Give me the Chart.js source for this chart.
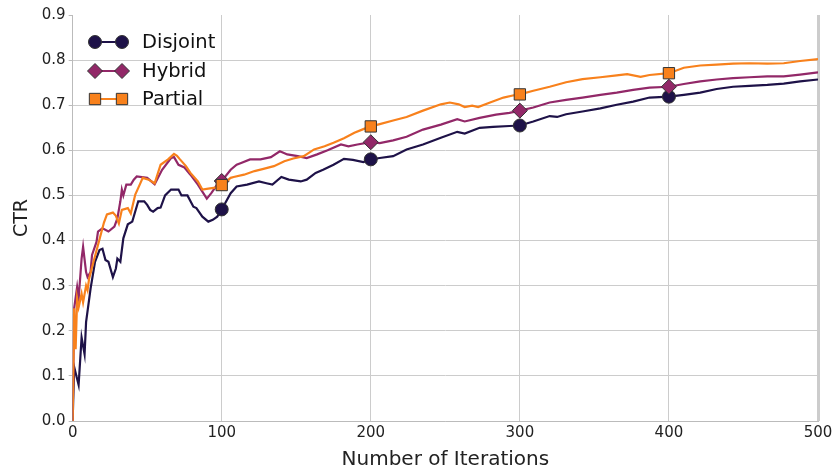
<!DOCTYPE html>
<html>
<head>
<meta charset="utf-8">
<script src="https://cdn.jsdelivr.net/npm/chart.js@4.4.1/dist/chart.umd.min.js"></script>
<style>
  html, body { margin: 0; padding: 0; background: #fff; }
  #wrap { width: 835px; height: 472px; position: relative; }
</style>
</head>
<body>
<div id="wrap"><canvas id="ctrChart"></canvas></div>
<script>
// values
const disjointIter = [0, 1, 4, 6, 8, 9, 12, 15, 18, 20, 22, 24, 27, 29, 30, 32, 34, 37, 40, 44, 48, 50, 52, 54, 57, 59, 62, 66, 71, 73, 77, 81, 83, 87, 91, 94, 97, 100, 106, 110, 117, 125, 130, 134, 140, 145, 153, 157, 163, 168, 175, 182, 188, 195, 200, 206, 215, 224, 235, 247, 258, 263, 273, 282, 293, 300, 309, 320, 325, 331, 342, 354, 365, 376, 387, 400, 410, 421, 432, 443, 454, 466, 477, 488, 500];
const disjointCTR = [0, 0.12, 0.08, 0.185, 0.148, 0.219, 0.293, 0.353, 0.379, 0.382, 0.357, 0.353, 0.319, 0.338, 0.36, 0.353, 0.405, 0.436, 0.442, 0.487, 0.487, 0.479, 0.468, 0.464, 0.472, 0.473, 0.5, 0.513, 0.513, 0.5, 0.5, 0.475, 0.472, 0.453, 0.442, 0.446, 0.453, 0.469, 0.505, 0.52, 0.524, 0.531, 0.527, 0.524, 0.541, 0.535, 0.531, 0.535, 0.55, 0.557, 0.568, 0.581, 0.579, 0.574, 0.58, 0.583, 0.587, 0.602, 0.613, 0.628, 0.641, 0.637, 0.65, 0.652, 0.654, 0.655, 0.664, 0.676, 0.674, 0.68, 0.686, 0.693, 0.701, 0.708, 0.717, 0.719, 0.723, 0.728, 0.736, 0.741, 0.743, 0.745, 0.748, 0.753, 0.757];

const hybridIter = [0, 1, 3, 4, 6, 7, 9, 10, 12, 13, 16, 17, 20, 24, 28, 30, 32, 33, 34, 36, 39, 41, 43, 50, 55, 60, 66, 68, 71, 75, 79, 84, 90, 93, 97, 100, 106, 110, 113, 119, 126, 133, 139, 144, 151, 157, 164, 171, 180, 185, 191, 200, 206, 215, 224, 235, 247, 258, 263, 273, 284, 293, 300, 309, 320, 331, 342, 354, 365, 376, 387, 400, 410, 421, 432, 443, 454, 466, 477, 488, 500];
const hybridCTR = [0, 0.25, 0.297, 0.271, 0.36, 0.386, 0.33, 0.319, 0.33, 0.368, 0.397, 0.42, 0.427, 0.42, 0.431, 0.449, 0.487, 0.513, 0.5, 0.524, 0.524, 0.535, 0.542, 0.539, 0.525, 0.557, 0.583, 0.585, 0.568, 0.562, 0.546, 0.524, 0.493, 0.505, 0.524, 0.532, 0.557, 0.568, 0.572, 0.58, 0.58, 0.585, 0.598, 0.591, 0.587, 0.583, 0.591, 0.6, 0.613, 0.609, 0.613, 0.618, 0.616, 0.622, 0.63, 0.646, 0.657, 0.669, 0.664, 0.672, 0.679, 0.683, 0.688, 0.695, 0.706, 0.712, 0.717, 0.723, 0.728, 0.734, 0.739, 0.741, 0.747, 0.753, 0.757, 0.76, 0.762, 0.764, 0.764, 0.768, 0.773];

const partialIter = [0, 1, 2, 3, 4, 6, 7, 9, 10, 11, 14, 17, 19, 21, 23, 27, 29, 31, 33, 37, 39, 42, 45, 47, 51, 55, 59, 64, 68, 70, 72, 76, 79, 84, 87, 91, 97, 100, 106, 108, 115, 122, 128, 135, 142, 148, 155, 162, 169, 175, 182, 189, 195, 200, 206, 215, 224, 235, 247, 253, 259, 263, 268, 272, 280, 289, 296, 300, 309, 320, 331, 342, 354, 365, 372, 381, 387, 400, 410, 421, 432, 443, 454, 466, 477, 488, 500];
const partialCTR = [0, 0.25, 0.159, 0.271, 0.252, 0.282, 0.263, 0.3, 0.29, 0.315, 0.353, 0.39, 0.415, 0.44, 0.458, 0.462, 0.455, 0.438, 0.468, 0.472, 0.46, 0.502, 0.524, 0.539, 0.535, 0.527, 0.568, 0.58, 0.592, 0.588, 0.58, 0.565, 0.55, 0.531, 0.513, 0.515, 0.518, 0.523, 0.539, 0.541, 0.546, 0.554, 0.559, 0.565, 0.576, 0.582, 0.587, 0.602, 0.609, 0.617, 0.627, 0.639, 0.647, 0.653, 0.658, 0.666, 0.674, 0.688, 0.702, 0.706, 0.702, 0.696, 0.699, 0.696, 0.706, 0.717, 0.722, 0.724, 0.732, 0.741, 0.751, 0.758, 0.762, 0.766, 0.769, 0.763, 0.767, 0.771, 0.783, 0.788, 0.79, 0.792, 0.793, 0.792, 0.793, 0.798, 0.802];

const markerIters = [100, 200, 300, 400];
const xTicks = [0, 100, 200, 300, 400, 500];
const yTicks = [0, 0.1, 0.2, 0.3, 0.4, 0.5, 0.6, 0.7, 0.8, 0.9];

const FONT = 'DejaVu Sans';
const series = [
    { label: 'Disjoint', iter: disjointIter, ctr: disjointCTR, color: '#1e1248', style: 'circle', radius: 6.5, order: 2 },
    { label: 'Hybrid', iter: hybridIter, ctr: hybridCTR, color: '#922868', style: 'rectRot', radius: 7.5, order: 1 },
    { label: 'Partial', iter: partialIter, ctr: partialCTR, color: '#f8811c', style: 'rect', radius: 8, order: 0 }
];

const pts = (xs, ys) => xs.map((x, i) => ({ x: x, y: ys[i] }));

// legend drawn by hand: marker - line - marker, then the label
const legendPlugin = {
    id: 'pairLegend',
    afterDraw(chart) {
        const ctx = chart.ctx;
        const x1 = 95, x2 = 122, tx = 142;
        const rows = [42, 71, 99];
        series.forEach((s, i) => {
            const y = rows[i];
            ctx.save();
            ctx.strokeStyle = s.color;
            ctx.lineWidth = 2;
            ctx.beginPath();
            ctx.moveTo(x1, y);
            ctx.lineTo(x2, y);
            ctx.stroke();
            const opts = { pointStyle: s.style, radius: s.radius, borderWidth: 1 };
            ctx.fillStyle = s.color;
            ctx.strokeStyle = '#333';
            ctx.lineWidth = 1;
            Chart.helpers.drawPoint(ctx, opts, x1, y);
            Chart.helpers.drawPoint(ctx, opts, x2, y);
            ctx.fillStyle = '#111';
            ctx.font = '19.5px "' + FONT + '"';
            ctx.textBaseline = 'middle';
            ctx.fillText(s.label, tx, y + 1);
            ctx.restore();
        });
    }
};

new Chart(document.getElementById('ctrChart'), {
    type: 'line',
    data: {
        datasets: series.map(s => ({
            label: s.label,
            data: pts(s.iter, s.ctr),
            borderColor: s.color,
            backgroundColor: s.color,
            borderWidth: 2.2,
            tension: 0,
            fill: false,
            order: s.order,
            pointStyle: s.style,
            pointBorderColor: '#333',
            pointBorderWidth: 1,
            pointRadius: (c) => (c.raw && markerIters.includes(c.raw.x)) ? s.radius : 0,
            pointHoverRadius: 0
        }))
    },
    options: {
        responsive: true,
        maintainAspectRatio: false,
        animation: false,
        layout: { padding: { top: 15, right: 0, left: 11, bottom: 0 } },
        plugins: { legend: { display: false }, tooltip: { enabled: false } },
        scales: {
            x: {
                type: 'linear',
                min: 0,
                max: 500,
                afterBuildTicks: (axis) => { axis.ticks = xTicks.map(v => ({ value: v })); },
                afterFit: (axis) => { axis.paddingRight = 17; },
                grid: {
                    color: '#cccccc',
                    lineWidth: (c) => c.tick && c.tick.value === 500 ? 3 : 1,
                    drawTicks: false
                },
                border: { color: '#bbbbbb' },
                ticks: { font: { family: FONT, size: 15 }, color: '#222', padding: 3 },
                title: { display: true, text: 'Number of Iterations', font: { family: FONT, size: 20 }, color: '#222', padding: { top: 3, bottom: 0 } }
            },
            y: {
                min: 0,
                max: 0.9,
                afterBuildTicks: (axis) => { axis.ticks = yTicks.map(v => ({ value: v })); },
                grid: {
                    color: (c) => c.tick && c.tick.value >= 0.9 ? 'rgba(0,0,0,0)' : '#cccccc',
                    tickColor: '#bbbbbb',
                    tickLength: 4
                },
                border: { color: '#bbbbbb' },
                ticks: { font: { family: FONT, size: 15 }, color: '#222', padding: 3, callback: (v) => v.toFixed(1) },
                title: { display: true, text: 'CTR', font: { family: FONT, size: 19 }, color: '#222', padding: { top: 0, bottom: 5 } }
            }
        }
    },
    plugins: [legendPlugin]
});
</script>
</body>
</html>
